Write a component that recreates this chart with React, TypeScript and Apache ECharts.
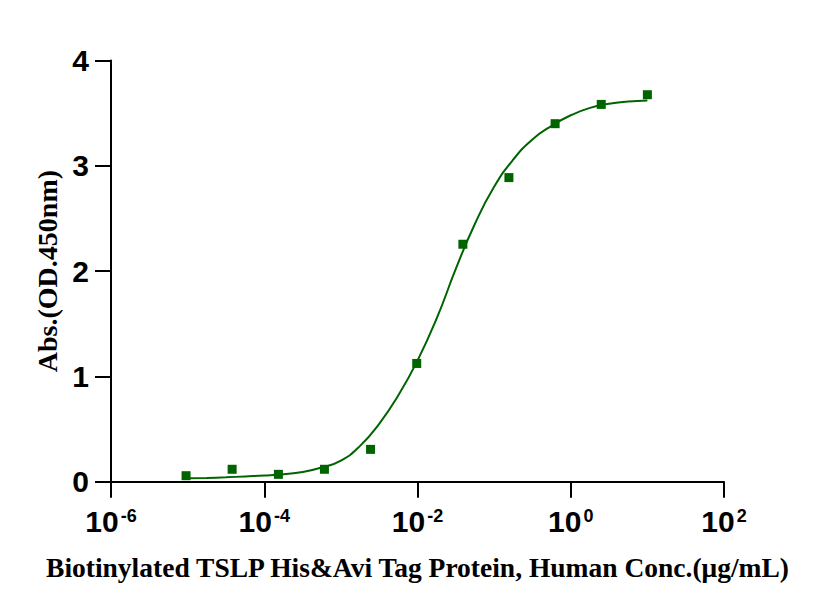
import React, { useEffect, useRef } from "react";
import * as echarts from "echarts";

// Measured points (concentration in µg/mL, absorbance OD450)
const concentrations = [10, 2.5, 0.625, 0.156, 0.0391, 0.00977, 0.00244, 0.00061, 0.000153, 0.0000381, 0.00000954];
const absorbance = [3.675, 3.583, 3.4, 2.888, 2.255, 1.123, 0.307, 0.118, 0.07, 0.118, 0.057];

// Fitted curve (quarter-decade steps)
const curveConc = [
  0.00001, 0.0000178, 0.0000316, 0.0000562,
  0.0001, 0.000178, 0.000316, 0.000562,
  0.001, 0.00178, 0.00316, 0.00562,
  0.01, 0.0178, 0.0316, 0.0562,
  0.1, 0.178, 0.316, 0.562,
  1, 1.78, 3.16, 5.62, 10,
];
const curveAbs = [
  0.032, 0.036, 0.042, 0.05,
  0.058, 0.07, 0.092, 0.135,
  0.2, 0.34, 0.55, 0.82,
  1.15, 1.55, 2.02, 2.45,
  2.8, 3.06, 3.25, 3.38,
  3.48, 3.55, 3.59, 3.61, 3.62,
];

const xAxisName = "Biotinylated TSLP His&Avi Tag Protein, Human Conc.(μg/mL)";
const yAxisName = "Abs.(OD.450nm)";

const GREEN = "#006400";

export default function App() {
  const ref = useRef<HTMLDivElement>(null);
  useEffect(() => {
    if (!ref.current) return;
    const chart = echarts.init(ref.current, undefined, { renderer: "svg" });
    const points = concentrations.map((c, i) => [c, absorbance[i]]);
    const curve = curveConc.map((c, i) => [c, curveAbs[i]]);
    chart.setOption({
      animation: false,
      backgroundColor: "#ffffff",
      grid: { left: 111, right: 97, top: 60.5, bottom: 133.3, containLabel: false },
      xAxis: {
        type: "log",
        logBase: 10,
        min: 1e-6,
        max: 1e2,
        interval: 2,
        name: xAxisName,
        nameLocation: "middle",
        nameGap: 72,
        nameTextStyle: {
          fontFamily: "Liberation Serif",
          fontWeight: "bold",
          fontSize: 27.5,
          color: "#000",
        },
        axisLine: { show: true, lineStyle: { color: "#000", width: 2 } },
        axisTick: { show: true, length: 16, lineStyle: { color: "#000", width: 2 } },
        minorTick: { show: false },
        splitLine: { show: false },
        axisLabel: {
          margin: 25,
          formatter: (v: number) => {
            const e = Math.round(Math.log10(v));
            return `{b|10}{s|${e}}`;
          },
          rich: {
            b: {
              fontFamily: "Liberation Sans",
              fontWeight: "bold",
              fontSize: 30,
              lineHeight: 30,
              color: "#000",
            },
            s: {
              fontFamily: "Liberation Sans",
              fontWeight: "bold",
              fontSize: 18,
              lineHeight: 20,
              verticalAlign: "top",
              color: "#000",
              padding: [0, 0, 0, 2],
            },
          },
        },
      },
      yAxis: {
        type: "value",
        min: 0,
        max: 4,
        interval: 1,
        name: yAxisName,
        nameLocation: "middle",
        nameGap: 50,
        nameRotate: 90,
        nameTextStyle: {
          fontFamily: "Liberation Serif",
          fontWeight: "bold",
          fontSize: 28,
          color: "#000",
        },
        axisLine: { show: true, lineStyle: { color: "#000", width: 2 } },
        axisTick: { show: true, length: 16, lineStyle: { color: "#000", width: 2 } },
        splitLine: { show: false },
        axisLabel: {
          margin: 22,
          fontFamily: "Liberation Sans",
          fontWeight: "bold",
          fontSize: 30,
          color: "#000",
        },
      },
      series: [
        {
          name: "fit",
          type: "line",
          data: curve,
          smooth: 0.5,
          showSymbol: false,
          symbol: "none",
          lineStyle: { color: GREEN, width: 2 },
          z: 2,
        },
        {
          name: "data",
          type: "scatter",
          data: points,
          symbol: "rect",
          symbolSize: 9,
          itemStyle: { color: GREEN, opacity: 1 },
          z: 3,
        },
      ],
    });
    return () => chart.dispose();
  }, []);
  return (
    <div
      ref={ref}
      style={{ position: "fixed", left: 0, top: 0, width: 821, height: 615, background: "#fff" }}
    />
  );
}
